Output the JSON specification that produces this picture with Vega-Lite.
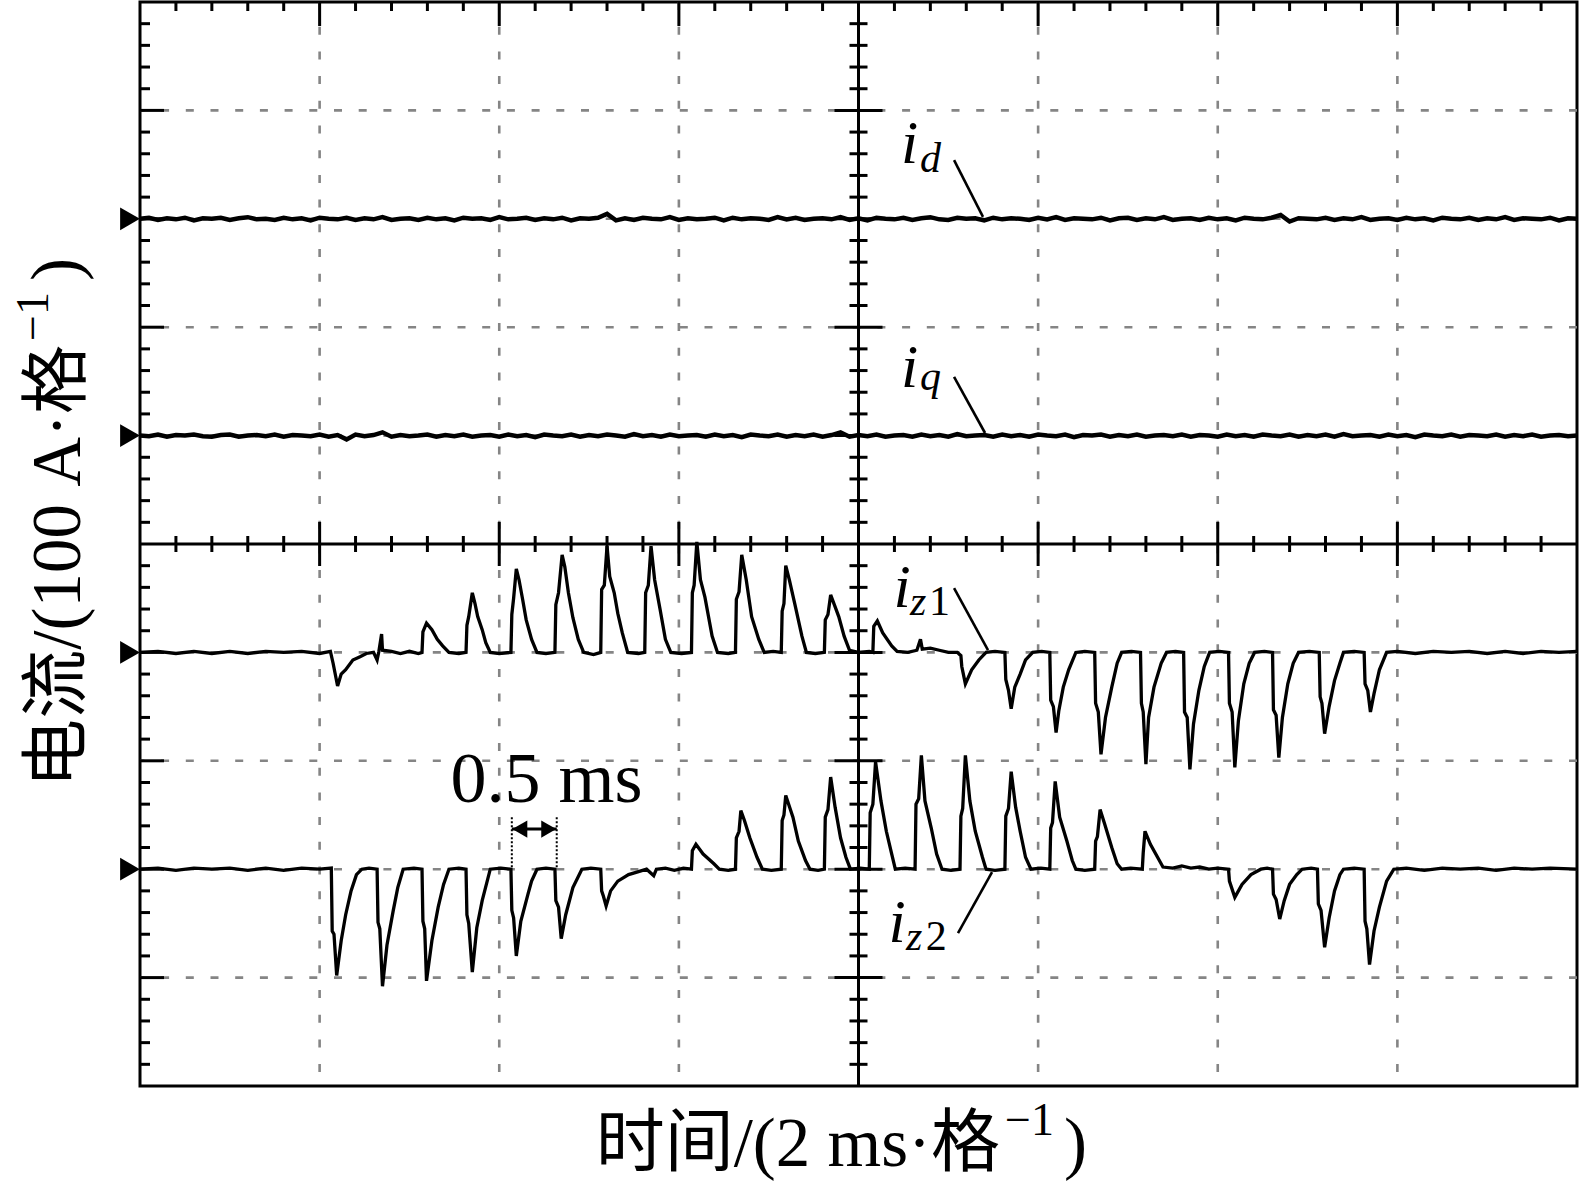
{
"$schema": "https://vega.github.io/schema/vega-lite/v6.json",
"width": 1437, "height": 1084,
"autosize": {"type": "none"},
"padding": {"left": 140, "top": 2, "right": 2, "bottom": 118},
"background": "white",
"config": {"view": {"stroke": "black", "strokeWidth": 3}},
"datasets": {
"xm": [{"t":2},{"t":4},{"t":6},{"t":10},{"t":12},{"t":14}],
"ym": [{"v":-4},{"v":-3},{"v":-2},{"v":-1},{"v":1},{"v":2},{"v":3},{"v":4}],
"xc": [{"t":8}],
"yc": [{"v":0}],
"xt": [{"t":0.4},{"t":0.8},{"t":1.2},{"t":1.6},{"t":2.4},{"t":2.8},{"t":3.2},{"t":3.6},{"t":4.4},{"t":4.8},{"t":5.2},{"t":5.6},{"t":6.4},{"t":6.8},{"t":7.2},{"t":7.6},{"t":8.4},{"t":8.8},{"t":9.2},{"t":9.6},{"t":10.4},{"t":10.8},{"t":11.2},{"t":11.6},{"t":12.4},{"t":12.8},{"t":13.2},{"t":13.6},{"t":14.4},{"t":14.8},{"t":15.2},{"t":15.6}],
"yt": [{"v":-4.8},{"v":-4.6},{"v":-4.4},{"v":-4.2},{"v":-3.8},{"v":-3.6},{"v":-3.4},{"v":-3.2},{"v":-2.8},{"v":-2.6},{"v":-2.4},{"v":-2.2},{"v":-1.8},{"v":-1.6},{"v":-1.4},{"v":-1.2},{"v":-0.8},{"v":-0.6},{"v":-0.4},{"v":-0.2},{"v":0.2},{"v":0.4},{"v":0.6},{"v":0.8},{"v":1.2},{"v":1.4},{"v":1.6},{"v":1.8},{"v":2.2},{"v":2.4},{"v":2.6},{"v":2.8},{"v":3.2},{"v":3.4},{"v":3.6},{"v":3.8},{"v":4.2},{"v":4.4},{"v":4.6},{"v":4.8}],
"tri": [{"v":3},{"v":1},{"v":-1},{"v":-3}],
"id": [{"t":0,"v":3},{"t":0.1,"v":3.01},{"t":0.2,"v":2.99},{"t":0.3,"v":3.005},{"t":0.4,"v":2.995},{"t":0.5,"v":3.01},{"t":0.6,"v":2.985},{"t":0.7,"v":3.005},{"t":0.8,"v":3},{"t":0.9,"v":3.01},{"t":1.0,"v":2.99},{"t":1.1,"v":3.005},{"t":1.2,"v":3.015},{"t":1.3,"v":2.995},{"t":1.4,"v":3},{"t":1.5,"v":2.99},{"t":1.6,"v":3.01},{"t":1.7,"v":2.995},{"t":1.8,"v":3.005},{"t":1.9,"v":2.985},{"t":2.0,"v":3.01},{"t":2.1,"v":3},{"t":2.2,"v":2.995},{"t":2.3,"v":3.01},{"t":2.4,"v":2.99},{"t":2.5,"v":3.005},{"t":2.6,"v":2.995},{"t":2.7,"v":3.015},{"t":2.8,"v":2.99},{"t":2.9,"v":3},{"t":3.0,"v":3.005},{"t":3.1,"v":2.99},{"t":3.2,"v":3.01},{"t":3.3,"v":2.995},{"t":3.4,"v":3.005},{"t":3.5,"v":2.985},{"t":3.6,"v":3.01},{"t":3.7,"v":3},{"t":3.8,"v":3.005},{"t":3.9,"v":2.99},{"t":4.0,"v":3.015},{"t":4.1,"v":2.995},{"t":4.2,"v":3},{"t":4.3,"v":3.01},{"t":4.4,"v":2.99},{"t":4.5,"v":3.005},{"t":4.6,"v":2.995},{"t":4.7,"v":3.01},{"t":4.8,"v":2.985},{"t":4.9,"v":3.005},{"t":5.0,"v":3},{"t":5.1,"v":3.01},{"t":5.2,"v":3.045},{"t":5.3,"v":2.985},{"t":5.4,"v":3.005},{"t":5.5,"v":2.99},{"t":5.6,"v":3.01},{"t":5.7,"v":3},{"t":5.8,"v":2.995},{"t":5.9,"v":3.015},{"t":6.0,"v":2.99},{"t":6.1,"v":3.005},{"t":6.2,"v":2.995},{"t":6.3,"v":3},{"t":6.4,"v":3.01},{"t":6.5,"v":2.985},{"t":6.6,"v":3.01},{"t":6.7,"v":2.995},{"t":6.8,"v":3.005},{"t":6.9,"v":3},{"t":7.0,"v":2.99},{"t":7.1,"v":3.015},{"t":7.2,"v":2.995},{"t":7.3,"v":3.01},{"t":7.4,"v":2.99},{"t":7.5,"v":3},{"t":7.6,"v":3.005},{"t":7.7,"v":2.995},{"t":7.8,"v":3.015},{"t":7.9,"v":2.99},{"t":8.0,"v":3.005},{"t":8.1,"v":2.985},{"t":8.2,"v":3.01},{"t":8.3,"v":3},{"t":8.4,"v":2.995},{"t":8.5,"v":3.01},{"t":8.6,"v":2.99},{"t":8.7,"v":3.005},{"t":8.8,"v":3.015},{"t":8.9,"v":2.995},{"t":9.0,"v":2.99},{"t":9.1,"v":3.01},{"t":9.2,"v":3},{"t":9.3,"v":3.005},{"t":9.4,"v":2.985},{"t":9.5,"v":3.01},{"t":9.6,"v":2.995},{"t":9.7,"v":3.005},{"t":9.8,"v":3},{"t":9.9,"v":2.99},{"t":10.0,"v":3.01},{"t":10.1,"v":2.995},{"t":10.2,"v":3.015},{"t":10.3,"v":2.99},{"t":10.4,"v":3.005},{"t":10.5,"v":3},{"t":10.6,"v":2.995},{"t":10.7,"v":3.01},{"t":10.8,"v":2.985},{"t":10.9,"v":3.005},{"t":11.0,"v":3.01},{"t":11.1,"v":2.99},{"t":11.2,"v":3.005},{"t":11.3,"v":2.995},{"t":11.4,"v":3.015},{"t":11.5,"v":2.99},{"t":11.6,"v":3},{"t":11.7,"v":3.005},{"t":11.8,"v":2.99},{"t":11.9,"v":3.01},{"t":12.0,"v":2.995},{"t":12.1,"v":3.005},{"t":12.2,"v":2.985},{"t":12.3,"v":3.01},{"t":12.4,"v":3},{"t":12.5,"v":2.995},{"t":12.6,"v":3.01},{"t":12.7,"v":3.035},{"t":12.8,"v":2.975},{"t":12.9,"v":3.005},{"t":13.0,"v":3},{"t":13.1,"v":2.995},{"t":13.2,"v":3.01},{"t":13.3,"v":2.99},{"t":13.4,"v":3.005},{"t":13.5,"v":2.995},{"t":13.6,"v":3.015},{"t":13.7,"v":2.99},{"t":13.8,"v":3},{"t":13.9,"v":3.005},{"t":14.0,"v":2.99},{"t":14.1,"v":3.01},{"t":14.2,"v":2.995},{"t":14.3,"v":3.005},{"t":14.4,"v":2.985},{"t":14.5,"v":3.01},{"t":14.6,"v":3},{"t":14.7,"v":2.995},{"t":14.8,"v":3.01},{"t":14.9,"v":2.99},{"t":15.0,"v":3.005},{"t":15.1,"v":2.995},{"t":15.2,"v":3.015},{"t":15.3,"v":2.99},{"t":15.4,"v":3.005},{"t":15.5,"v":3},{"t":15.6,"v":2.995},{"t":15.7,"v":3.01},{"t":15.8,"v":2.985},{"t":15.9,"v":3.005},{"t":16.0,"v":3}],
"iq": [{"t":0,"v":1},{"t":0.1,"v":0.995},{"t":0.2,"v":1.01},{"t":0.3,"v":0.99},{"t":0.4,"v":1.005},{"t":0.5,"v":1},{"t":0.6,"v":1.01},{"t":0.7,"v":0.995},{"t":0.8,"v":0.99},{"t":0.9,"v":1.005},{"t":1.0,"v":1.01},{"t":1.1,"v":0.99},{"t":1.2,"v":1},{"t":1.3,"v":1.005},{"t":1.4,"v":0.995},{"t":1.5,"v":1.01},{"t":1.6,"v":0.99},{"t":1.7,"v":1.005},{"t":1.8,"v":1},{"t":1.9,"v":0.995},{"t":2.0,"v":1.01},{"t":2.1,"v":0.99},{"t":2.2,"v":1.005},{"t":2.3,"v":0.965},{"t":2.4,"v":1.01},{"t":2.5,"v":0.995},{"t":2.6,"v":1.005},{"t":2.7,"v":1.03},{"t":2.8,"v":0.99},{"t":2.9,"v":1.005},{"t":3.0,"v":0.995},{"t":3.1,"v":1},{"t":3.2,"v":1.01},{"t":3.3,"v":0.99},{"t":3.4,"v":1.005},{"t":3.5,"v":0.995},{"t":3.6,"v":1.01},{"t":3.7,"v":0.99},{"t":3.8,"v":1},{"t":3.9,"v":1.005},{"t":4.0,"v":0.99},{"t":4.1,"v":1.01},{"t":4.2,"v":0.995},{"t":4.3,"v":1.005},{"t":4.4,"v":0.985},{"t":4.5,"v":1.01},{"t":4.6,"v":1},{"t":4.7,"v":0.995},{"t":4.8,"v":1.01},{"t":4.9,"v":0.99},{"t":5.0,"v":1.005},{"t":5.1,"v":0.995},{"t":5.2,"v":1.01},{"t":5.3,"v":1},{"t":5.4,"v":0.99},{"t":5.5,"v":1.015},{"t":5.6,"v":0.995},{"t":5.7,"v":1.005},{"t":5.8,"v":0.99},{"t":5.9,"v":1.01},{"t":6.0,"v":0.995},{"t":6.1,"v":1},{"t":6.2,"v":1.005},{"t":6.3,"v":0.99},{"t":6.4,"v":1.01},{"t":6.5,"v":0.995},{"t":6.6,"v":1.005},{"t":6.7,"v":0.985},{"t":6.8,"v":1.01},{"t":6.9,"v":1},{"t":7.0,"v":0.995},{"t":7.1,"v":1.01},{"t":7.2,"v":0.99},{"t":7.3,"v":1.005},{"t":7.4,"v":0.995},{"t":7.5,"v":1.01},{"t":7.6,"v":0.99},{"t":7.7,"v":1.005},{"t":7.8,"v":1.03},{"t":7.9,"v":0.99},{"t":8.0,"v":1.005},{"t":8.1,"v":0.995},{"t":8.2,"v":1.01},{"t":8.3,"v":0.99},{"t":8.4,"v":1},{"t":8.5,"v":1.005},{"t":8.6,"v":0.99},{"t":8.7,"v":1.01},{"t":8.8,"v":0.995},{"t":8.9,"v":1.005},{"t":9.0,"v":0.99},{"t":9.1,"v":1.015},{"t":9.2,"v":0.995},{"t":9.3,"v":1},{"t":9.4,"v":1.005},{"t":9.5,"v":0.99},{"t":9.6,"v":1.01},{"t":9.7,"v":0.995},{"t":9.8,"v":1.005},{"t":9.9,"v":0.99},{"t":10.0,"v":1.01},{"t":10.1,"v":1},{"t":10.2,"v":0.995},{"t":10.3,"v":1.01},{"t":10.4,"v":0.985},{"t":10.5,"v":1.005},{"t":10.6,"v":1},{"t":10.7,"v":1.01},{"t":10.8,"v":0.99},{"t":10.9,"v":1.005},{"t":11.0,"v":0.995},{"t":11.1,"v":1.01},{"t":11.2,"v":0.99},{"t":11.3,"v":1},{"t":11.4,"v":1.005},{"t":11.5,"v":0.995},{"t":11.6,"v":1.01},{"t":11.7,"v":0.99},{"t":11.8,"v":1.005},{"t":11.9,"v":1},{"t":12.0,"v":0.99},{"t":12.1,"v":1.01},{"t":12.2,"v":0.995},{"t":12.3,"v":1.005},{"t":12.4,"v":0.99},{"t":12.5,"v":1.01},{"t":12.6,"v":1},{"t":12.7,"v":0.995},{"t":12.8,"v":1.01},{"t":12.9,"v":0.99},{"t":13.0,"v":1.005},{"t":13.1,"v":0.995},{"t":13.2,"v":1.01},{"t":13.3,"v":0.99},{"t":13.4,"v":1.015},{"t":13.5,"v":0.995},{"t":13.6,"v":1},{"t":13.7,"v":1.005},{"t":13.8,"v":0.99},{"t":13.9,"v":1.01},{"t":14.0,"v":0.995},{"t":14.1,"v":1.005},{"t":14.2,"v":0.985},{"t":14.3,"v":1.01},{"t":14.4,"v":1},{"t":14.5,"v":0.995},{"t":14.6,"v":1.01},{"t":14.7,"v":0.99},{"t":14.8,"v":1.005},{"t":14.9,"v":1},{"t":15.0,"v":0.995},{"t":15.1,"v":1.01},{"t":15.2,"v":0.99},{"t":15.3,"v":1.005},{"t":15.4,"v":0.995},{"t":15.5,"v":1.01},{"t":15.6,"v":0.99},{"t":15.7,"v":1},{"t":15.8,"v":1.005},{"t":15.9,"v":0.995},{"t":16.0,"v":1}],
"iz1": [{"t":0,"v":-1},{"t":0.2,"v":-0.99},{"t":0.4,"v":-1.01},{"t":0.6,"v":-0.99},{"t":0.8,"v":-1.01},{"t":1.0,"v":-0.99},{"t":1.2,"v":-1.01},{"t":1.4,"v":-0.99},{"t":1.6,"v":-1.0},{"t":1.8,"v":-0.99},{"t":2.0,"v":-1.01},{"t":2.12,"v":-0.99},{"t":2.15,"v":-1.1},{"t":2.2,"v":-1.31},{"t":2.24,"v":-1.2},{"t":2.29,"v":-1.16},{"t":2.37,"v":-1.07},{"t":2.45,"v":-1.04},{"t":2.52,"v":-1.01},{"t":2.6,"v":-1.0},{"t":2.64,"v":-1.07},{"t":2.66,"v":-0.99},{"t":2.69,"v":-0.83},{"t":2.7,"v":-0.98},{"t":2.8,"v":-0.99},{"t":2.9,"v":-1.01},{"t":3.0,"v":-0.99},{"t":3.1,"v":-1.01},{"t":3.14,"v":-1.0},{"t":3.15,"v":-0.81},{"t":3.19,"v":-0.73},{"t":3.25,"v":-0.79},{"t":3.31,"v":-0.88},{"t":3.37,"v":-0.94},{"t":3.44,"v":-1.0},{"t":3.55,"v":-1.01},{"t":3.63,"v":-1.0},{"t":3.64,"v":-0.75},{"t":3.66,"v":-0.67},{"t":3.7,"v":-0.45},{"t":3.73,"v":-0.55},{"t":3.76,"v":-0.67},{"t":3.81,"v":-0.79},{"t":3.85,"v":-0.91},{"t":3.9,"v":-1.0},{"t":4.0,"v":-1.01},{"t":4.13,"v":-1.0},{"t":4.14,"v":-0.65},{"t":4.16,"v":-0.5},{"t":4.19,"v":-0.23},{"t":4.22,"v":-0.33},{"t":4.26,"v":-0.51},{"t":4.3,"v":-0.7},{"t":4.36,"v":-0.88},{"t":4.42,"v":-1.0},{"t":4.52,"v":-1.01},{"t":4.62,"v":-1.0},{"t":4.63,"v":-0.56},{"t":4.66,"v":-0.45},{"t":4.7,"v":-0.1},{"t":4.73,"v":-0.21},{"t":4.77,"v":-0.45},{"t":4.82,"v":-0.68},{"t":4.88,"v":-0.88},{"t":4.94,"v":-1.0},{"t":5.05,"v":-1.02},{"t":5.13,"v":-1.0},{"t":5.14,"v":-0.42},{"t":5.17,"v":-0.38},{"t":5.2,"v":-0.02},{"t":5.23,"v":-0.3},{"t":5.28,"v":-0.45},{"t":5.32,"v":-0.64},{"t":5.37,"v":-0.82},{"t":5.43,"v":-1.0},{"t":5.55,"v":-1.01},{"t":5.62,"v":-1.0},{"t":5.63,"v":-0.45},{"t":5.66,"v":-0.38},{"t":5.69,"v":-0.02},{"t":5.73,"v":-0.33},{"t":5.79,"v":-0.6},{"t":5.85,"v":-0.88},{"t":5.91,"v":-1.0},{"t":6.03,"v":-1.01},{"t":6.14,"v":-1.0},{"t":6.15,"v":-0.45},{"t":6.17,"v":-0.38},{"t":6.2,"v":0.02},{"t":6.24,"v":-0.33},{"t":6.29,"v":-0.49},{"t":6.37,"v":-0.85},{"t":6.43,"v":-1.0},{"t":6.55,"v":-1.01},{"t":6.63,"v":-1.0},{"t":6.64,"v":-0.51},{"t":6.67,"v":-0.44},{"t":6.7,"v":-0.1},{"t":6.75,"v":-0.33},{"t":6.81,"v":-0.67},{"t":6.89,"v":-0.88},{"t":6.95,"v":-1.0},{"t":7.05,"v":-0.99},{"t":7.14,"v":-1.0},{"t":7.15,"v":-0.62},{"t":7.17,"v":-0.55},{"t":7.19,"v":-0.2},{"t":7.23,"v":-0.33},{"t":7.29,"v":-0.55},{"t":7.37,"v":-0.85},{"t":7.42,"v":-1.0},{"t":7.52,"v":-1.01},{"t":7.62,"v":-1.0},{"t":7.63,"v":-0.7},{"t":7.66,"v":-0.65},{"t":7.69,"v":-0.47},{"t":7.74,"v":-0.58},{"t":7.78,"v":-0.67},{"t":7.84,"v":-0.85},{"t":7.9,"v":-0.98},{"t":8.0,"v":-1.0},{"t":8.12,"v":-0.99},{"t":8.16,"v":-1.0},{"t":8.17,"v":-0.76},{"t":8.21,"v":-0.71},{"t":8.27,"v":-0.82},{"t":8.37,"v":-0.94},{"t":8.43,"v":-0.99},{"t":8.55,"v":-1.0},{"t":8.65,"v":-0.98},{"t":8.69,"v":-0.88},{"t":8.71,"v":-0.97},{"t":8.8,"v":-0.96},{"t":8.9,"v":-0.98},{"t":9.0,"v":-1.0},{"t":9.1,"v":-1.0},{"t":9.14,"v":-1.03},{"t":9.15,"v":-1.13},{"t":9.19,"v":-1.29},{"t":9.26,"v":-1.16},{"t":9.34,"v":-1.07},{"t":9.42,"v":-1.0},{"t":9.52,"v":-0.99},{"t":9.63,"v":-1.0},{"t":9.64,"v":-1.25},{"t":9.67,"v":-1.35},{"t":9.7,"v":-1.52},{"t":9.74,"v":-1.32},{"t":9.8,"v":-1.2},{"t":9.86,"v":-1.07},{"t":9.94,"v":-1.0},{"t":10.04,"v":-0.99},{"t":10.13,"v":-1.0},{"t":10.14,"v":-1.44},{"t":10.17,"v":-1.5},{"t":10.2,"v":-1.74},{"t":10.23,"v":-1.54},{"t":10.28,"v":-1.32},{"t":10.34,"v":-1.16},{"t":10.42,"v":-1.0},{"t":10.52,"v":-0.99},{"t":10.63,"v":-1.0},{"t":10.64,"v":-1.47},{"t":10.67,"v":-1.55},{"t":10.7,"v":-1.94},{"t":10.75,"v":-1.6},{"t":10.82,"v":-1.32},{"t":10.88,"v":-1.1},{"t":10.93,"v":-1.0},{"t":11.04,"v":-0.99},{"t":11.14,"v":-1.0},{"t":11.15,"v":-1.47},{"t":11.17,"v":-1.55},{"t":11.2,"v":-2.03},{"t":11.23,"v":-1.6},{"t":11.29,"v":-1.32},{"t":11.37,"v":-1.1},{"t":11.43,"v":-1.0},{"t":11.53,"v":-0.99},{"t":11.62,"v":-1.0},{"t":11.63,"v":-1.55},{"t":11.66,"v":-1.6},{"t":11.69,"v":-2.08},{"t":11.73,"v":-1.66},{"t":11.79,"v":-1.35},{"t":11.85,"v":-1.13},{"t":11.91,"v":-1.0},{"t":12.02,"v":-0.99},{"t":12.12,"v":-1.0},{"t":12.13,"v":-1.47},{"t":12.16,"v":-1.55},{"t":12.19,"v":-2.06},{"t":12.23,"v":-1.63},{"t":12.29,"v":-1.29},{"t":12.35,"v":-1.1},{"t":12.41,"v":-1.0},{"t":12.52,"v":-0.99},{"t":12.61,"v":-1.0},{"t":12.62,"v":-1.53},{"t":12.65,"v":-1.58},{"t":12.68,"v":-1.97},{"t":12.72,"v":-1.6},{"t":12.78,"v":-1.29},{"t":12.84,"v":-1.1},{"t":12.9,"v":-1.0},{"t":13.02,"v":-0.99},{"t":13.13,"v":-1.0},{"t":13.14,"v":-1.41},{"t":13.16,"v":-1.47},{"t":13.19,"v":-1.75},{"t":13.24,"v":-1.5},{"t":13.3,"v":-1.26},{"t":13.36,"v":-1.1},{"t":13.4,"v":-1.0},{"t":13.52,"v":-0.99},{"t":13.63,"v":-1.0},{"t":13.64,"v":-1.29},{"t":13.67,"v":-1.35},{"t":13.7,"v":-1.55},{"t":13.74,"v":-1.38},{"t":13.8,"v":-1.16},{"t":13.88,"v":-1.0},{"t":14.0,"v":-0.99},{"t":14.2,"v":-1.01},{"t":14.4,"v":-0.99},{"t":14.6,"v":-1.0},{"t":14.8,"v":-0.99},{"t":15.0,"v":-1.01},{"t":15.2,"v":-0.99},{"t":15.4,"v":-1.01},{"t":15.6,"v":-0.99},{"t":15.8,"v":-1.0},{"t":16.0,"v":-0.99}],
"iz2": [{"t":0,"v":-3},{"t":0.2,"v":-2.99},{"t":0.4,"v":-3.01},{"t":0.6,"v":-2.99},{"t":0.8,"v":-3.0},{"t":1.0,"v":-2.99},{"t":1.2,"v":-3.01},{"t":1.4,"v":-2.99},{"t":1.6,"v":-3.01},{"t":1.8,"v":-2.99},{"t":2.0,"v":-3.0},{"t":2.13,"v":-2.99},{"t":2.14,"v":-3.57},{"t":2.16,"v":-3.6},{"t":2.19,"v":-3.98},{"t":2.24,"v":-3.66},{"t":2.29,"v":-3.42},{"t":2.35,"v":-3.2},{"t":2.41,"v":-3.05},{"t":2.47,"v":-3.0},{"t":2.55,"v":-2.99},{"t":2.64,"v":-3.0},{"t":2.65,"v":-3.49},{"t":2.67,"v":-3.55},{"t":2.7,"v":-4.08},{"t":2.75,"v":-3.7},{"t":2.82,"v":-3.38},{"t":2.87,"v":-3.17},{"t":2.93,"v":-3.0},{"t":3.05,"v":-2.99},{"t":3.14,"v":-3.0},{"t":3.15,"v":-3.48},{"t":3.17,"v":-3.55},{"t":3.19,"v":-4.03},{"t":3.25,"v":-3.66},{"t":3.32,"v":-3.35},{"t":3.38,"v":-3.14},{"t":3.44,"v":-3.0},{"t":3.55,"v":-2.99},{"t":3.63,"v":-3.0},{"t":3.64,"v":-3.42},{"t":3.66,"v":-3.5},{"t":3.7,"v":-3.95},{"t":3.75,"v":-3.54},{"t":3.81,"v":-3.29},{"t":3.9,"v":-3.0},{"t":4.02,"v":-2.99},{"t":4.13,"v":-3.0},{"t":4.14,"v":-3.38},{"t":4.16,"v":-3.45},{"t":4.19,"v":-3.8},{"t":4.24,"v":-3.48},{"t":4.32,"v":-3.23},{"t":4.36,"v":-3.11},{"t":4.42,"v":-3.0},{"t":4.52,"v":-2.99},{"t":4.62,"v":-3.0},{"t":4.63,"v":-3.29},{"t":4.66,"v":-3.35},{"t":4.69,"v":-3.64},{"t":4.74,"v":-3.42},{"t":4.82,"v":-3.17},{"t":4.92,"v":-3.0},{"t":5.02,"v":-2.99},{"t":5.13,"v":-3.0},{"t":5.14,"v":-3.2},{"t":5.16,"v":-3.25},{"t":5.19,"v":-3.34},{"t":5.24,"v":-3.2},{"t":5.32,"v":-3.11},{"t":5.44,"v":-3.05},{"t":5.56,"v":-3.02},{"t":5.64,"v":-3.0},{"t":5.72,"v":-3.06},{"t":5.75,"v":-3.0},{"t":5.85,"v":-2.99},{"t":5.95,"v":-3.01},{"t":6.05,"v":-2.99},{"t":6.14,"v":-3.0},{"t":6.15,"v":-2.83},{"t":6.19,"v":-2.77},{"t":6.27,"v":-2.86},{"t":6.39,"v":-2.95},{"t":6.45,"v":-3.0},{"t":6.55,"v":-3.01},{"t":6.63,"v":-3.0},{"t":6.64,"v":-2.71},{"t":6.67,"v":-2.65},{"t":6.69,"v":-2.46},{"t":6.73,"v":-2.55},{"t":6.79,"v":-2.71},{"t":6.87,"v":-2.89},{"t":6.93,"v":-3.0},{"t":7.03,"v":-3.01},{"t":7.14,"v":-3.0},{"t":7.15,"v":-2.55},{"t":7.17,"v":-2.5},{"t":7.19,"v":-2.32},{"t":7.27,"v":-2.52},{"t":7.33,"v":-2.74},{"t":7.41,"v":-2.92},{"t":7.46,"v":-3.0},{"t":7.55,"v":-3.01},{"t":7.62,"v":-3.0},{"t":7.63,"v":-2.52},{"t":7.66,"v":-2.45},{"t":7.69,"v":-2.15},{"t":7.74,"v":-2.43},{"t":7.8,"v":-2.71},{"t":7.86,"v":-2.89},{"t":7.91,"v":-3.0},{"t":8.02,"v":-2.99},{"t":8.12,"v":-3.0},{"t":8.13,"v":-2.48},{"t":8.16,"v":-2.4},{"t":8.19,"v":-2.01},{"t":8.25,"v":-2.37},{"t":8.31,"v":-2.65},{"t":8.37,"v":-2.86},{"t":8.41,"v":-3.0},{"t":8.52,"v":-2.99},{"t":8.63,"v":-3.0},{"t":8.64,"v":-2.4},{"t":8.67,"v":-2.35},{"t":8.7,"v":-1.95},{"t":8.74,"v":-2.37},{"t":8.81,"v":-2.62},{"t":8.87,"v":-2.86},{"t":8.93,"v":-3.0},{"t":9.03,"v":-3.01},{"t":9.13,"v":-3.0},{"t":9.14,"v":-2.51},{"t":9.16,"v":-2.44},{"t":9.19,"v":-1.95},{"t":9.24,"v":-2.37},{"t":9.3,"v":-2.65},{"t":9.38,"v":-2.89},{"t":9.42,"v":-3.0},{"t":9.52,"v":-3.01},{"t":9.63,"v":-3.0},{"t":9.64,"v":-2.51},{"t":9.67,"v":-2.44},{"t":9.7,"v":-2.1},{"t":9.75,"v":-2.43},{"t":9.8,"v":-2.65},{"t":9.86,"v":-2.89},{"t":9.92,"v":-3.0},{"t":10.03,"v":-2.99},{"t":10.13,"v":-3.0},{"t":10.14,"v":-2.62},{"t":10.16,"v":-2.57},{"t":10.19,"v":-2.19},{"t":10.24,"v":-2.52},{"t":10.32,"v":-2.74},{"t":10.38,"v":-2.92},{"t":10.42,"v":-3.0},{"t":10.52,"v":-3.01},{"t":10.63,"v":-3.0},{"t":10.64,"v":-2.74},{"t":10.66,"v":-2.7},{"t":10.69,"v":-2.45},{"t":10.74,"v":-2.58},{"t":10.82,"v":-2.8},{"t":10.88,"v":-2.95},{"t":10.93,"v":-3.0},{"t":11.03,"v":-2.99},{"t":11.16,"v":-3.0},{"t":11.17,"v":-2.85},{"t":11.19,"v":-2.65},{"t":11.25,"v":-2.77},{"t":11.33,"v":-2.89},{"t":11.39,"v":-2.98},{"t":11.5,"v":-2.99},{"t":11.6,"v":-2.97},{"t":11.7,"v":-2.99},{"t":11.8,"v":-2.98},{"t":11.9,"v":-3.0},{"t":12.0,"v":-2.99},{"t":12.12,"v":-3.0},{"t":12.13,"v":-3.11},{"t":12.19,"v":-3.26},{"t":12.27,"v":-3.14},{"t":12.37,"v":-3.05},{"t":12.48,"v":-3.0},{"t":12.55,"v":-2.99},{"t":12.61,"v":-3.0},{"t":12.62,"v":-3.23},{"t":12.65,"v":-3.28},{"t":12.69,"v":-3.46},{"t":12.74,"v":-3.29},{"t":12.8,"v":-3.14},{"t":12.88,"v":-3.05},{"t":12.94,"v":-3.0},{"t":13.04,"v":-2.99},{"t":13.11,"v":-3.0},{"t":13.12,"v":-3.32},{"t":13.15,"v":-3.38},{"t":13.19,"v":-3.72},{"t":13.24,"v":-3.45},{"t":13.3,"v":-3.2},{"t":13.36,"v":-3.05},{"t":13.4,"v":-3.0},{"t":13.52,"v":-2.99},{"t":13.63,"v":-3.0},{"t":13.64,"v":-3.48},{"t":13.66,"v":-3.55},{"t":13.69,"v":-3.88},{"t":13.74,"v":-3.57},{"t":13.8,"v":-3.35},{"t":13.88,"v":-3.11},{"t":13.96,"v":-3.0},{"t":14.1,"v":-2.99},{"t":14.3,"v":-3.01},{"t":14.5,"v":-2.99},{"t":14.7,"v":-3.0},{"t":14.9,"v":-2.99},{"t":15.1,"v":-3.01},{"t":15.3,"v":-2.99},{"t":15.5,"v":-3.0},{"t":15.7,"v":-2.99},{"t":16.0,"v":-3.0}],
"lead": [{"t":9.064,"v":3.542,"t2":9.386,"v2":3.017},{"t":9.064,"v":1.541,"t2":9.409,"v2":1.024},{"t":9.064,"v":-0.406,"t2":9.442,"v2":-0.978},{"t":9.108,"v":-3.589,"t2":9.487,"v2":-3.026}],
"li": [{"t":8.57,"v":3.515,"txt":"i"},{"t":8.57,"v":1.451,"txt":"i"},{"t":8.485,"v":-0.581,"txt":"i"},{"t":8.43,"v":-3.672,"txt":"i"}],
"ls": [{"t":8.685,"v":3.434,"txt":"d"},{"t":8.685,"v":1.42,"txt":"q"},{"t":8.574,"v":-0.655,"txt":"z"},{"t":8.53,"v":-3.745,"txt":"z"}],
"ln": [{"t":8.785,"v":-0.655,"txt":"1"},{"t":8.75,"v":-3.745,"txt":"2"}],
"ann": [{"t":4.526,"v":-2.38,"txt":"0.5 ms"}],
"txm": [{"t":9.576,"v":-5.738,"txt":"时间/(2 ms·格"}],
"txs": [{"t":9.631,"v":-5.452,"txt":"−1"}],
"txp": [{"t":10.288,"v":-5.738,"txt":")"}],
"tym": [{"t":-0.668,"v":1.836,"txt":"电流/(100 A·格"}],
"tys": [{"t":-1.024,"v":1.873,"txt":"−1"}],
"typ": [{"t":-0.68,"v":2.426,"txt":")"}],
"arr": [{"t":4.14,"t2":4.64,"v":-2.63}],
"dotl": [{"t":4.14,"v":-2.52,"v2":-3},{"t":4.64,"v":-2.52,"v2":-3}],
"arl": [{"t":4.14,"v":-2.63}],
"arr2": [{"t":4.64,"v":-2.63}]
},
"layer": [
{"data":{"name":"xm"},"mark":{"type":"rule","stroke":"#858585","strokeWidth":2.6,"strokeDash":[8,16.7]},
 "encoding":{"x":{"field":"t","type":"quantitative","scale":{"domain":[0,16],"nice":false,"zero":false},"axis":null}}},
{"data":{"name":"ym"},"mark":{"type":"rule","stroke":"#858585","strokeWidth":2.6,"strokeDash":[8,16.7]},
 "encoding":{"y":{"field":"v","type":"quantitative","scale":{"domain":[-5,5],"nice":false,"zero":false},"axis":null}}},
{"data":{"name":"xc"},"mark":{"type":"rule","color":"black","strokeWidth":3},"encoding":{"x":{"field":"t","type":"quantitative","axis":null}}},
{"data":{"name":"yc"},"mark":{"type":"rule","color":"black","strokeWidth":3},"encoding":{"y":{"field":"v","type":"quantitative","axis":null}}},
{"data":{"name":"xt"},"mark":{"type":"rule","color":"black","strokeWidth":3,"y2Offset":9},"encoding":{"x":{"field":"t","type":"quantitative","axis":null},"y":{"datum":5,"type":"quantitative","axis":null},"y2":{"datum":5}}},
{"data":{"name":"xm"},"mark":{"type":"rule","color":"black","strokeWidth":3,"y2Offset":24},"encoding":{"x":{"field":"t","type":"quantitative","axis":null},"y":{"datum":5,"type":"quantitative","axis":null},"y2":{"datum":5}}},
{"data":{"name":"yt"},"mark":{"type":"rule","color":"black","strokeWidth":3,"x2Offset":10},"encoding":{"y":{"field":"v","type":"quantitative","axis":null},"x":{"datum":0,"type":"quantitative","axis":null},"x2":{"datum":0}}},
{"data":{"name":"ym"},"mark":{"type":"rule","color":"black","strokeWidth":3,"x2Offset":24},"encoding":{"y":{"field":"v","type":"quantitative","axis":null},"x":{"datum":0,"type":"quantitative","axis":null},"x2":{"datum":0}}},
{"data":{"name":"xt"},"mark":{"type":"rule","color":"black","strokeWidth":3,"yOffset":-8,"y2Offset":8},"encoding":{"x":{"field":"t","type":"quantitative","axis":null},"y":{"datum":0,"type":"quantitative","axis":null},"y2":{"datum":0}}},
{"data":{"name":"xm"},"mark":{"type":"rule","color":"black","strokeWidth":3,"yOffset":-22,"y2Offset":22},"encoding":{"x":{"field":"t","type":"quantitative","axis":null},"y":{"datum":0,"type":"quantitative","axis":null},"y2":{"datum":0}}},
{"data":{"name":"yt"},"mark":{"type":"rule","color":"black","strokeWidth":3,"xOffset":-9,"x2Offset":9},"encoding":{"y":{"field":"v","type":"quantitative","axis":null},"x":{"datum":8,"type":"quantitative","axis":null},"x2":{"datum":8}}},
{"data":{"name":"ym"},"mark":{"type":"rule","color":"black","strokeWidth":3,"xOffset":-24,"x2Offset":24},"encoding":{"y":{"field":"v","type":"quantitative","axis":null},"x":{"datum":8,"type":"quantitative","axis":null},"x2":{"datum":8}}},
{"data":{"name":"id"},"mark":{"type":"line","color":"black","strokeWidth":4.5},"encoding":{"x":{"field":"t","type":"quantitative","axis":null},"y":{"field":"v","type":"quantitative","axis":null}}},
{"data":{"name":"iq"},"mark":{"type":"line","color":"black","strokeWidth":4.5},"encoding":{"x":{"field":"t","type":"quantitative","axis":null},"y":{"field":"v","type":"quantitative","axis":null}}},
{"data":{"name":"iz1"},"mark":{"type":"line","color":"black","strokeWidth":3.3},"encoding":{"x":{"field":"t","type":"quantitative","axis":null},"y":{"field":"v","type":"quantitative","axis":null}}},
{"data":{"name":"iz2"},"mark":{"type":"line","color":"black","strokeWidth":3.3},"encoding":{"x":{"field":"t","type":"quantitative","axis":null},"y":{"field":"v","type":"quantitative","axis":null}}},
{"data":{"name":"tri"},"mark":{"type":"point","shape":"triangle-right","filled":true,"color":"black","opacity":1,"size":520,"xOffset":-10},"encoding":{"x":{"datum":0,"type":"quantitative","axis":null},"y":{"field":"v","type":"quantitative","axis":null}}},
{"data":{"name":"lead"},"mark":{"type":"rule","color":"black","strokeWidth":2.6},"encoding":{"x":{"field":"t","type":"quantitative","axis":null},"y":{"field":"v","type":"quantitative","axis":null},"x2":{"field":"t2"},"y2":{"field":"v2"}}},
{"data":{"name":"li"},"mark":{"type":"text","font":"Liberation Serif","fontStyle":"italic","fontSize":62,"align":"center","baseline":"alphabetic","color":"black"},"encoding":{"x":{"field":"t","type":"quantitative","axis":null},"y":{"field":"v","type":"quantitative","axis":null},"text":{"field":"txt"}}},
{"data":{"name":"ls"},"mark":{"type":"text","font":"Liberation Serif","fontStyle":"italic","fontSize":42,"align":"left","baseline":"alphabetic","color":"black"},"encoding":{"x":{"field":"t","type":"quantitative","axis":null},"y":{"field":"v","type":"quantitative","axis":null},"text":{"field":"txt"}}},
{"data":{"name":"ln"},"mark":{"type":"text","font":"Liberation Serif","fontSize":42,"align":"left","baseline":"alphabetic","color":"black"},"encoding":{"x":{"field":"t","type":"quantitative","axis":null},"y":{"field":"v","type":"quantitative","axis":null},"text":{"field":"txt"}}},
{"data":{"name":"ann"},"mark":{"type":"text","font":"Liberation Serif","fontSize":72,"align":"center","baseline":"alphabetic","color":"black"},"encoding":{"x":{"field":"t","type":"quantitative","axis":null},"y":{"field":"v","type":"quantitative","axis":null},"text":{"field":"txt"}}},
{"data":{"name":"txm"},"mark":{"type":"text","font":"Liberation Serif, Noto Sans CJK SC","fontSize":69,"align":"right","baseline":"alphabetic","color":"black"},"encoding":{"x":{"field":"t","type":"quantitative","axis":null},"y":{"field":"v","type":"quantitative","axis":null},"text":{"field":"txt"}}},
{"data":{"name":"txs"},"mark":{"type":"text","font":"Liberation Serif","fontSize":46,"align":"left","baseline":"alphabetic","color":"black"},"encoding":{"x":{"field":"t","type":"quantitative","axis":null},"y":{"field":"v","type":"quantitative","axis":null},"text":{"field":"txt"}}},
{"data":{"name":"txp"},"mark":{"type":"text","font":"Liberation Serif","fontSize":69,"align":"left","baseline":"alphabetic","color":"black"},"encoding":{"x":{"field":"t","type":"quantitative","axis":null},"y":{"field":"v","type":"quantitative","axis":null},"text":{"field":"txt"}}},
{"data":{"name":"tym"},"mark":{"type":"text","font":"Liberation Serif, Noto Sans CJK SC","fontSize":69,"align":"right","baseline":"alphabetic","angle":270,"color":"black"},"encoding":{"x":{"field":"t","type":"quantitative","axis":null},"y":{"field":"v","type":"quantitative","axis":null},"text":{"field":"txt"}}},
{"data":{"name":"tys"},"mark":{"type":"text","font":"Liberation Serif","fontSize":46,"align":"left","baseline":"alphabetic","angle":270,"color":"black"},"encoding":{"x":{"field":"t","type":"quantitative","axis":null},"y":{"field":"v","type":"quantitative","axis":null},"text":{"field":"txt"}}},
{"data":{"name":"typ"},"mark":{"type":"text","font":"Liberation Serif","fontSize":69,"align":"left","baseline":"alphabetic","angle":270,"color":"black"},"encoding":{"x":{"field":"t","type":"quantitative","axis":null},"y":{"field":"v","type":"quantitative","axis":null},"text":{"field":"txt"}}},
{"data":{"name":"dotl"},"mark":{"type":"rule","color":"black","strokeWidth":2,"strokeDash":[2,2]},"encoding":{"x":{"field":"t","type":"quantitative","axis":null},"y":{"field":"v","type":"quantitative","axis":null},"y2":{"field":"v2"}}},
{"data":{"name":"arr"},"mark":{"type":"rule","color":"black","strokeWidth":3},"encoding":{"x":{"field":"t","type":"quantitative","axis":null},"x2":{"field":"t2"},"y":{"field":"v","type":"quantitative","axis":null}}},
{"data":{"name":"arl"},"mark":{"type":"point","shape":"triangle-left","filled":true,"color":"black","opacity":1,"size":300,"xOffset":8},"encoding":{"x":{"field":"t","type":"quantitative","axis":null},"y":{"field":"v","type":"quantitative","axis":null}}},
{"data":{"name":"arr2"},"mark":{"type":"point","shape":"triangle-right","filled":true,"color":"black","opacity":1,"size":300,"xOffset":-8},"encoding":{"x":{"field":"t","type":"quantitative","axis":null},"y":{"field":"v","type":"quantitative","axis":null}}}
]
}
